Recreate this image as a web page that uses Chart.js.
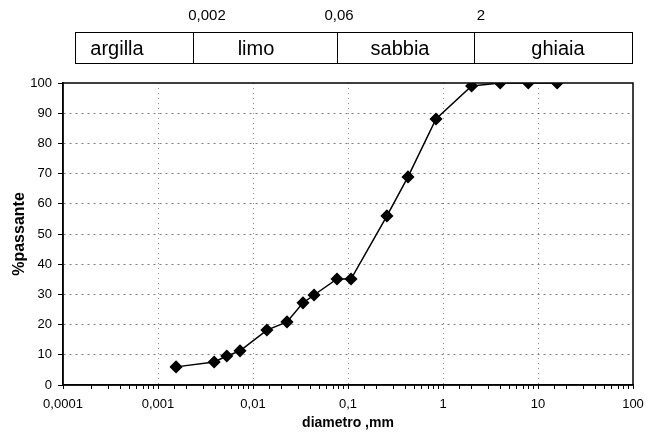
<!DOCTYPE html>
<html>
<head>
<meta charset="utf-8">
<script src="https://cdn.jsdelivr.net/npm/chart.js@4.4.1/dist/chart.umd.min.js"></script>
<style>
  body { margin: 0; background: #fff; }
  canvas { display: block; }
</style>
</head>
<body>
<canvas id="granChart" width="649" height="442"></canvas>
<script>
// sieve / sedimentation results
const diameters = [0.00155, 0.0039, 0.0053, 0.0073, 0.0140, 0.0228, 0.0336, 0.0439, 0.0766, 0.1076, 0.257, 0.428, 0.844, 2.0, 4.0, 7.9, 15.9];
const passing = [6.0, 7.6, 9.6, 11.3, 18.2, 20.9, 27.2, 29.8, 35.1, 35.1, 56.0, 68.9, 88.1, 99.0, 100, 100, 100];

const xDecades = [0.0001, 0.001, 0.01, 0.1, 1, 10, 100];
const xTickLabels = ['0,0001', '0,001', '0,01', '0,1', '1', '10', '100'];

// classification band above the plot
const bandNames = ['argilla', 'limo', 'sabbia', 'ghiaia'];
const bandLimits = ['0,002', '0,06', '2'];

const FONT = "'Liberation Sans', Arial, sans-serif";

function decadeIndex(v) {
    return xDecades.findIndex(d => Math.abs(Math.log10(v) - Math.log10(d)) < 1e-6);
}

const bandPlugin = {
    id: 'bandPlugin',
    afterDraw(chart) {
        const ctx = chart.ctx;
        const edges = [75, 193, 337, 474, 632];
        const nameX = [117, 256, 400, 558];
        const limitX = [207, 339, 481];
        const top = 32, bottom = 63;

        ctx.save();
        ctx.strokeStyle = '#000';
        ctx.lineWidth = 1;
        ctx.strokeRect(edges[0] + 0.5, top + 0.5, edges[4] - edges[0], bottom - top);
        for (let i = 1; i < edges.length - 1; i++) {
            ctx.beginPath();
            ctx.moveTo(edges[i] + 0.5, top);
            ctx.lineTo(edges[i] + 0.5, bottom);
            ctx.stroke();
        }
        ctx.fillStyle = '#000';
        ctx.textAlign = 'center';
        ctx.textBaseline = 'alphabetic';
        ctx.font = '20px ' + FONT;
        bandNames.forEach((n, i) => ctx.fillText(n, nameX[i], 55));
        ctx.font = '15px ' + FONT;
        bandLimits.forEach((l, i) => ctx.fillText(l, limitX[i], 20));

        // frame round the plot area
        const a = chart.chartArea;
        ctx.lineWidth = 1.5;
        ctx.strokeRect(a.left, a.top, a.right - a.left, a.bottom - a.top);
        ctx.restore();
    }
};

new Chart(document.getElementById('granChart'), {
    type: 'scatter',
    data: {
        datasets: [{
            data: diameters.map((d, i) => ({ x: d, y: passing[i] })),
            showLine: true,
            borderColor: '#000',
            borderWidth: 1.5,
            backgroundColor: '#000',
            pointStyle: 'rectRot',
            pointRadius: 5.5,
            pointHoverRadius: 5.5,
            tension: 0
        }]
    },
    options: {
        responsive: false,
        animation: false,
        layout: { padding: { top: 83, right: 16, left: 0, bottom: 0 } },
        plugins: {
            legend: { display: false },
            tooltip: { enabled: false }
        },
        scales: {
            x: {
                type: 'logarithmic',
                min: 0.0001,
                max: 100,
                afterFit: s => { s.height = 57; s.paddingRight = 2; },
                border: { color: '#000', width: 1.5, dash: [1, 4] },
                grid: {
                    color: c => (c.tick && decadeIndex(c.tick.value) > 0 && decadeIndex(c.tick.value) < 6) ? 'rgba(0,0,0,0.45)' : 'rgba(0,0,0,0)',
                    tickColor: '#000',
                    tickLength: 4,
                    lineWidth: 1
                },
                ticks: {
                    autoSkip: false,
                    maxRotation: 0,
                    padding: 8,
                    color: '#000',
                    font: { family: FONT, size: 13 },
                    callback: v => {
                        const i = decadeIndex(v);
                        return i >= 0 ? xTickLabels[i] : '';
                    }
                },
                title: {
                    display: true,
                    text: 'diametro ,mm',
                    color: '#000',
                    font: { family: FONT, size: 14, weight: 'bold' },
                    padding: { top: 0, bottom: 10 }
                }
            },
            y: {
                min: 0,
                max: 100,
                afterFit: s => { s.width = 63; },
                border: { color: '#000', width: 1.5, dash: [2, 4] },
                grid: {
                    color: c => (c.tick && c.tick.value > 0 && c.tick.value < 100) ? 'rgba(0,0,0,0.5)' : 'rgba(0,0,0,0)',
                    tickColor: '#000',
                    tickLength: 5,
                    lineWidth: 1
                },
                ticks: {
                    stepSize: 10,
                    padding: 6,
                    color: '#000',
                    font: { family: FONT, size: 13 }
                },
                title: {
                    display: true,
                    text: '%passante',
                    color: '#000',
                    font: { family: FONT, size: 16, weight: 'bold' },
                    padding: { top: 10, bottom: 0 }
                }
            }
        }
    },
    plugins: [bandPlugin]
});
</script>
</body>
</html>
